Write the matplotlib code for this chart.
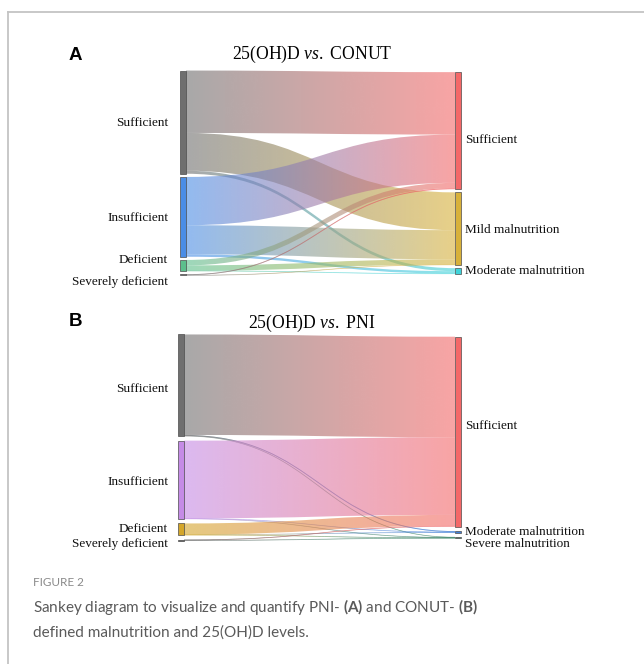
import numpy as np
import matplotlib
matplotlib.use('Agg')
import matplotlib.pyplot as plt
from matplotlib.path import Path
from matplotlib.patches import PathPatch, Rectangle
from matplotlib.colors import to_rgb

plt.rcParams['mathtext.fontset'] = 'custom'
plt.rcParams['mathtext.it'] = 'Liberation Serif:italic'
plt.rcParams['mathtext.rm'] = 'Liberation Serif'
plt.rcParams['mathtext.bf'] = 'Lato:bold'

# ---- data (patient counts) ----
vit_levels = ["Sufficient", "Insufficient", "Deficient", "Severely deficient"]

conut_levels = ["Sufficient", "Mild malnutrition", "Moderate malnutrition"]
# rows: 25(OH)D level, cols: CONUT class
conut_flows = [[208, 126, 10],
               [161, 97, 8],
               [18, 18, 1],
               [3, 1, 0]]

pni_levels = ["Sufficient", "Moderate malnutrition", "Severe malnutrition"]
# rows: 25(OH)D level, cols: PNI class
pni_flows = [[335, 3, 1],
             [259, 1, 1],
             [37, 1, 1],
             [2, 0, 1]]

# ---- styles ----
A_left_colors = ['#6f6f6f', '#4a8de6', '#5cbf8c', '#7a7a7a']
A_right_colors = ['#f46868', '#d8b13a', '#3fd3da']
B_left_colors = ['#6f6f6f', '#c58be6', '#d4a62a', '#555555']
B_right_colors = ['#f46868', '#3f7fd8', '#2e7d5e']

SERIF = 'Liberation Serif'


def column_spans(totals, center, pad, scale):
    h = [t * scale for t in totals]
    y = center - (sum(h) + pad * (len(h) - 1)) / 2
    spans = []
    for hh in h:
        spans.append((y, y + hh))
        y += hh + pad
    return spans


def draw_link(ax, x0, x1, y0t, y0b, y1t, y1b, c0, c1, alpha):
    xm = (x0 + x1) / 2
    verts = [(x0, y0t), (xm, y0t), (xm, y1t), (x1, y1t),
             (x1, y1b), (xm, y1b), (xm, y0b), (x0, y0b), (x0, y0t)]
    codes = [Path.MOVETO, Path.CURVE4, Path.CURVE4, Path.CURVE4,
             Path.LINETO, Path.CURVE4, Path.CURVE4, Path.CURVE4, Path.CLOSEPOLY]
    patch = PathPatch(Path(verts, codes), facecolor='none', edgecolor='none')
    ax.add_patch(patch)
    t = np.linspace(0, 1, 256)
    rgba = np.zeros((1, 256, 4))
    rgba[0, :, :3] = (1 - t)[:, None] * np.array(c0) + t[:, None] * np.array(c1)
    rgba[0, :, 3] = alpha
    im = ax.imshow(rgba, extent=(x0, x1, max(y0b, y1b) + 1, min(y0t, y1t) - 1),
                   aspect='auto', interpolation='bilinear', zorder=1)
    im.set_clip_path(patch)
    # keep hairline flows visible
    if (y0b - y0t) < 1.2:
        tt = np.linspace(0, 1, 60)
        ym0 = (y0t + y0b) / 2
        ym1 = (y1t + y1b) / 2
        bx = (1 - tt) ** 3 * x0 + 3 * (1 - tt) ** 2 * tt * xm + 3 * (1 - tt) * tt ** 2 * xm + tt ** 3 * x1
        by = (1 - tt) ** 3 * ym0 + 3 * (1 - tt) ** 2 * tt * ym0 + 3 * (1 - tt) * tt ** 2 * ym1 + tt ** 3 * ym1
        for k in range(len(tt) - 1):
            w = min(1.0, tt[k] * 1.6)
            c = (1 - w) * np.array(c0) + w * np.array(c1)
            ax.plot(bx[k:k + 2], by[k:k + 2], color=c, lw=0.6, alpha=0.45, zorder=1,
                    solid_capstyle='butt')


def draw_sankey(ax, left, right, flows, lcol, rcol, xl, xr, center, pad, scale,
                left_offsets, right_offsets, nw=6, alpha=0.6):
    flows = np.array(flows, dtype=float)
    lspan = column_spans(flows.sum(axis=1), center, pad, scale)
    rspan = column_spans(flows.sum(axis=0), center, pad, scale)
    # outgoing offsets at each source, incoming at each target
    out_pos = [s[0] for s in lspan]
    in_pos = [s[0] for s in rspan]
    links = []
    for i in range(len(left)):
        for j in range(len(right)):
            v = flows[i, j] * scale
            if v <= 0:
                continue
            links.append((i, j, out_pos[i], out_pos[i] + v))
            out_pos[i] += v
    tgt = {}
    for j in range(len(right)):
        for i in range(len(left)):
            v = flows[i, j] * scale
            if v <= 0:
                continue
            tgt[(i, j)] = (in_pos[j], in_pos[j] + v)
            in_pos[j] += v
    for i, j, a, b in links:
        c, d = tgt[(i, j)]
        draw_link(ax, xl + nw, xr, a, b, c, d, to_rgb(lcol[i]), to_rgb(rcol[j]), alpha)
    for i, (a, b) in enumerate(lspan):
        ax.add_patch(Rectangle((xl, a), nw, max(b - a, 1.0), facecolor=lcol[i],
                               edgecolor='#4d4d4d', lw=0.5, zorder=3))
        ax.text(168, (a + b) / 2 + left_offsets[i], left[i], family=SERIF, fontsize=9.5,
                ha='right', va='center', color='#111111')
    for j, (a, b) in enumerate(rspan):
        ax.add_patch(Rectangle((xr, a), nw, max(b - a, 1.0), facecolor=rcol[j],
                               edgecolor='#4d4d4d', lw=0.5, zorder=3))
        ax.text(465, (a + b) / 2 + right_offsets[j], right[j], family=SERIF, fontsize=9.5,
                ha='left', va='center', color='#111111')


fig = plt.figure(figsize=(6.44, 6.64), dpi=100)
ax = fig.add_axes([0, 0, 1, 1])

# frame of the figure box
ax.plot([8, 644], [12, 12], color='#c4c4c4', lw=1.3)
ax.plot([8, 8], [12, 664], color='#c4c4c4', lw=1.3)

# panel A
ax.text(69, 55, 'A', family='Liberation Sans', fontweight='bold', fontsize=13.5,
        ha='left', va='center')
ax.text(312, 54, r'25(OH)D $\mathit{vs.}$ CONUT', family=SERIF, fontsize=12.7,
        ha='center', va='center')
draw_sankey(ax, vit_levels, conut_levels, conut_flows, A_left_colors, A_right_colors,
            180, 455, 173, 3.2, 0.3, [1, 1, -6, 7], [9, 1, 0])

# panel B
ax.text(69, 322, 'B', family='Liberation Sans', fontweight='bold', fontsize=13.5,
        ha='left', va='center')
ax.text(312, 323, r'25(OH)D $\mathit{vs.}$ PNI', family=SERIF, fontsize=12.7,
        ha='center', va='center')
draw_sankey(ax, vit_levels, pni_levels, pni_flows, B_left_colors, B_right_colors,
            178, 455, 437.5, 4.5, 0.3, [4, 2, 0, 4], [-6, 0, 6])

# caption
ax.text(33, 583, 'FIGURE 2', family='Lato', fontsize=8.5, color='#8a8a8a',
        ha='left', va='center')
ax.text(33, 607, r'Sankey diagram to visualize and quantify PNI- $\mathbf{(A)}$ and CONUT- $\mathbf{(B)}$',
        family='Lato', fontsize=11, color='#5a5a5a', ha='left', va='center')
ax.text(33, 633, 'defined malnutrition and 25(OH)D levels.',
        family='Lato', fontsize=11, color='#5a5a5a', ha='left', va='center')

ax.set_xlim(0, 644)
ax.set_ylim(664, 0)
ax.axis('off')
fig.savefig('out.png', dpi=100)
